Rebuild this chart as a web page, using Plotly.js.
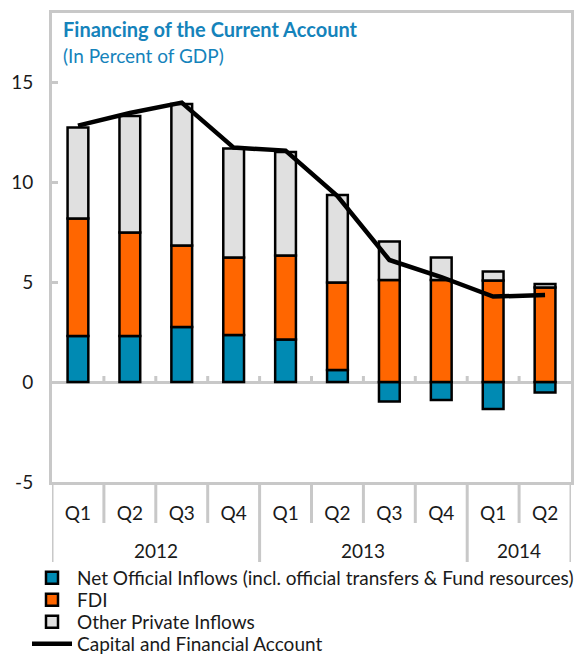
<!DOCTYPE html>
<html>
<head>
<meta charset="utf-8">
<script src="https://cdn.plot.ly/plotly-3.0.1.min.js"></script>
<style>html,body{margin:0;padding:0;background:#fff;}</style>
</head>
<body>
<div id="chart" style="width:584px;height:656px;"></div>
<script>
const years = ['2012','2012','2012','2012','2013','2013','2013','2013','2014','2014'];
const quarters = ['Q1','Q2','Q3','Q4','Q1','Q2','Q3','Q4','Q1','Q2'];
const periodIds = ['2012Q1','2012Q2','2012Q3','2012Q4','2013Q1','2013Q2','2013Q3','2013Q4','2014Q1','2014Q2'];
const netOfficial = [2.3, 2.3, 2.75, 2.35, 2.12, 0.6, -0.98, -0.9, -1.35, -0.53];
const fdi = [5.88, 5.18, 4.08, 3.87, 4.2, 4.38, 5.1, 5.1, 5.07, 4.73];
const otherPrivate = [4.55, 5.82, 7.07, 5.45, 5.18, 4.37, 1.92, 1.13, 0.45, 0.17];
const capitalFinancial = [12.82, 13.45, 13.97, 11.72, 11.57, 9.3, 6.1, 5.25, 4.27, 4.35];
const yTickVals = [-5, 0, 5, 10, 15];
const yTickText = ['-5', '0', '5', '10', '15'];

const FONT = 'Lato, "Open Sans", sans-serif';
const GRAY = '#c8c8c8';
const TXT = '#1a1a1a';

// year groups derived from the years array
const yearNames = [], yearStart = [], yearEnd = [];
years.forEach((y, i) => {
  if (yearNames.length === 0 || yearNames[yearNames.length - 1] !== y) {
    yearNames.push(y); yearStart.push(i); yearEnd.push(i);
  } else {
    yearEnd[yearEnd.length - 1] = i;
  }
});
const yearCenters = yearStart.map((s, k) => (s + yearEnd[k]) / 2);
const yearBoundarySet = new Set([-0.5].concat(yearEnd.map(e => e + 0.5)));

const yMin = -5, yMax = 18.45;
const plotH = 656 - 13 - 174;
const pxPerUnit = plotH / (yMax - yMin);

const shapes = [];
for (let i = 0; i <= periodIds.length; i++) {
  const bx = i - 0.5;
  const isYear = yearBoundarySet.has(bx);
  // separators below the category axis
  shapes.push({
    type: 'line', xref: 'x', yref: 'paper', x0: bx, x1: bx,
    y0: 0, y1: -(isYear ? 80 : 41) / plotH,
    line: {color: GRAY, width: 3}, layer: 'below'
  });
  // small tick marks on the zero line
  if (i > 0 && i < periodIds.length) {
    shapes.push({
      type: 'line', xref: 'x', yref: 'y', x0: bx, x1: bx,
      y0: 0, y1: 6 / pxPerUnit,
      line: {color: GRAY, width: 3}, layer: 'below'
    });
  }
}
const annotations = yearNames.map((name, k) => ({
  text: name, xref: 'x', yref: 'paper', x: yearCenters[k], y: -68 / plotH,
  xanchor: 'center', yanchor: 'middle', showarrow: false,
  font: {family: FONT, size: 19, color: TXT}
}));

const barLine = {color: '#000', width: 2.5};
const traces = [
  {type: 'bar', name: 'Net Official Inflows (incl. official transfers & Fund resources)', x: periodIds, y: netOfficial, width: 0.4, marker: {color: '#008ab3', line: barLine}, legend: 'legend'},
  {type: 'bar', name: 'FDI', x: periodIds, y: fdi, width: 0.4, marker: {color: '#ff6600', line: barLine}, legend: 'legend2'},
  {type: 'bar', name: 'Other Private Inflows', x: periodIds, y: otherPrivate, width: 0.4, marker: {color: '#e0e0e0', line: barLine}, legend: 'legend3'},
  {type: 'scatter', mode: 'lines', name: 'Capital and Financial Account', x: periodIds, y: capitalFinancial, line: {color: '#000', width: 4.5}, legend: 'legend4'}
];

function legendAt(cy) {
  return {
    x: 27/584, xanchor: 'left', xref: 'container', y: 1 - cy/656, yanchor: 'middle', yref: 'container',
    itemwidth: 40, bgcolor: 'rgba(0,0,0,0)', borderwidth: 0,
    font: {family: FONT, size: 19, color: TXT}
  };
}

const layout = {
  width: 584, height: 656,
  margin: {l: 52, r: 13, t: 13, b: 174, autoexpand: false},
  paper_bgcolor: '#fff', plot_bgcolor: '#fff',
  barmode: 'relative',
  font: {family: FONT, size: 19, color: TXT},
  title: {
    text: '<b>Financing of the Current Account</b><br><span style="font-size:19px">(In Percent of GDP)</span>',
    x: 63/584, xanchor: 'left', xref: 'container', y: 1 - 37/656, yanchor: 'top', yref: 'container',
    font: {family: FONT, size: 20, color: '#1583bb'}
  },
  xaxis: {
    type: 'category', categoryarray: periodIds, categoryorder: 'array',
    range: [-0.5, periodIds.length - 0.5],
    tickmode: 'array', tickvals: periodIds, ticktext: quarters,
    ticks: '', ticklabelstandoff: 12,
    showline: true, linecolor: GRAY, linewidth: 3, mirror: true,
    showgrid: false, zeroline: false,
    tickfont: {family: FONT, size: 19, color: TXT}
  },
  yaxis: {
    range: [yMin, yMax],
    tickmode: 'array', tickvals: yTickVals, ticktext: yTickText,
    ticks: 'inside', ticklen: 6, tickcolor: GRAY, tickwidth: 3,
    showline: true, linecolor: GRAY, linewidth: 3, mirror: true,
    showgrid: false, zeroline: true, zerolinecolor: GRAY, zerolinewidth: 3,
    ticklabelstandoff: 12,
    tickfont: {family: FONT, size: 19, color: TXT}
  },
  shapes: shapes,
  annotations: annotations,
  showlegend: true,
  legend: legendAt(578),
  legend2: legendAt(600),
  legend3: legendAt(622),
  legend4: legendAt(644)
};

Plotly.newPlot('chart', traces, layout, {displayModeBar: false, staticPlot: true});
</script>
</body>
</html>
